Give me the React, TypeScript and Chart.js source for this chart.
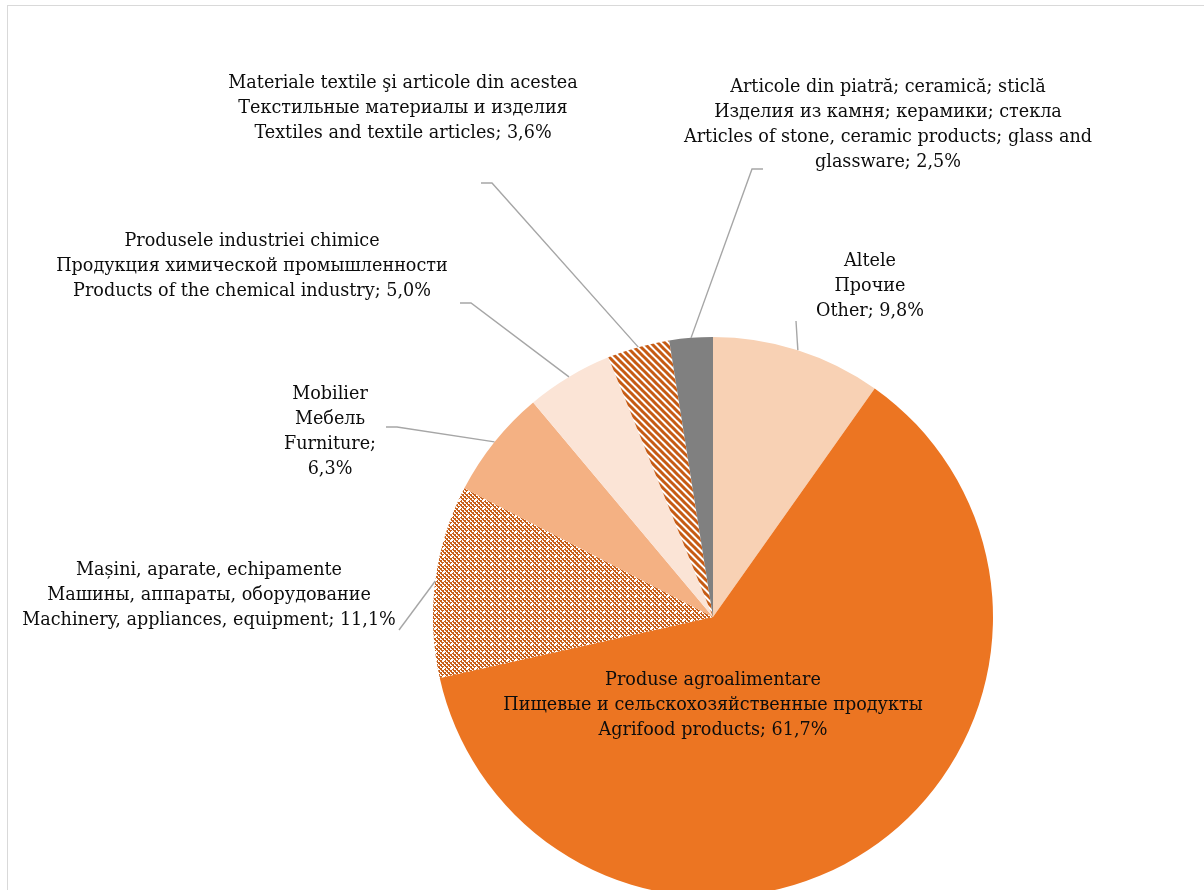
import React, { useEffect, useRef } from "react";
import { Chart, registerables } from "chart.js";

Chart.register(...registerables);

// ---- data ----
const namesRo = [
  "Altele",
  "Produse agroalimentare",
  "Mașini, aparate, echipamente",
  "Mobilier",
  "Produsele industriei chimice",
  "Materiale textile şi articole din acestea",
  "Articole din piatră; ceramică; sticlă",
];
const namesRu = [
  "Прочие",
  "Пищевые и сельскохозяйственные продукты",
  "Машины, аппараты, оборудование",
  "Мебель",
  "Продукция химической промышленности",
  "Текстильные материалы и изделия",
  "Изделия из камня; керамики; стекла",
];
const namesEn = [
  "Other",
  "Agrifood products",
  "Machinery, appliances, equipment",
  "Furniture",
  "Products of the chemical industry",
  "Textiles and textile articles",
  "Articles of stone, ceramic products; glass and glassware",
];
const shares = [9.8, 61.7, 11.1, 6.3, 5.0, 3.6, 2.5];

// ---- layout / style ----
const W = 1204;
const H = 920;
const FONT = "17.6px 'DejaVu Serif'";
const LINE_H = 25;
const LABEL_LAYOUT: { x: number; y: number; wrap: number; leader: number[][] | null }[] = [
  { x: 870, y: 261, wrap: 300, leader: [[796, 321]] },
  { x: 713, y: 680, wrap: 700, leader: null },
  { x: 209, y: 570, wrap: 480, leader: [[399, 630]] },
  { x: 330, y: 394, wrap: 130, leader: [[386, 427], [397, 427]] },
  { x: 252, y: 241, wrap: 520, leader: [[460, 303], [471, 303]] },
  { x: 403, y: 83, wrap: 480, leader: [[481, 183], [492, 183]] },
  { x: 888, y: 87, wrap: 470, leader: [[763, 169], [752, 169]] },
];

function makeDotPattern(): CanvasPattern | string {
  const s = 8;
  const c = document.createElement("canvas");
  c.width = s;
  c.height = s;
  const g = c.getContext("2d");
  if (!g) return "#D27033";
  g.fillStyle = "#ffffff";
  g.fillRect(0, 0, s, s);
  g.fillStyle = "#C9601A";
  for (let y = 0; y < s; y += 2) {
    for (let x = 0; x < s; x += 2) {
      if (((x + y) / 2) % 2 === 0) g.fillRect(x, y, 2, 2);
      else g.fillRect(x + 1, y, 1, 1);
    }
  }
  g.fillStyle = "#ffffff";
  g.fillRect(3, 3, 2, 2);
  return g.createPattern(c, "repeat") as CanvasPattern;
}

function makeStripePattern(): CanvasPattern | string {
  const s = 7;
  const c = document.createElement("canvas");
  c.width = s;
  c.height = s;
  const g = c.getContext("2d");
  if (!g) return "#D27033";
  g.fillStyle = "#ffffff";
  g.fillRect(0, 0, s, s);
  g.strokeStyle = "#C65B14";
  g.lineWidth = 3;
  g.beginPath();
  for (let k = -1; k <= 1; k++) {
    g.moveTo(k * s - 1, -1);
    g.lineTo(k * s + s + 1, s + 1);
  }
  g.stroke();
  return g.createPattern(c, "repeat") as CanvasPattern;
}

function fmt(v: number): string {
  return v.toFixed(1).replace(".", ",") + "%";
}

function wrapText(ctx: CanvasRenderingContext2D, text: string, maxW: number): string[] {
  const words = text.split(" ");
  const out: string[] = [];
  let cur = "";
  for (const w of words) {
    const t = cur ? cur + " " + w : w;
    if (cur && ctx.measureText(t).width > maxW) {
      out.push(cur);
      cur = w;
    } else {
      cur = t;
    }
  }
  if (cur) out.push(cur);
  return out;
}

const framePlugin = {
  id: "frame",
  beforeDraw(chart: any) {
    const ctx = chart.ctx as CanvasRenderingContext2D;
    ctx.save();
    ctx.fillStyle = "#ffffff";
    ctx.fillRect(0, 0, W, H);
    ctx.strokeStyle = "#D9D9D9";
    ctx.lineWidth = 1;
    ctx.strokeRect(7.5, 5.5, W + 20, H + 20);
    ctx.restore();
  },
};

const labelPlugin = {
  id: "sliceLabels",
  afterDraw(chart: any) {
    const ctx = chart.ctx as CanvasRenderingContext2D;
    const meta = chart.getDatasetMeta(0);
    ctx.save();
    ctx.font = FONT;
    meta.data.forEach((el: any, i: number) => {
      const p = el.getProps(["x", "y", "startAngle", "endAngle", "outerRadius"], true);
      const mid = (p.startAngle + p.endAngle) / 2;
      const ax = p.x + Math.cos(mid) * p.outerRadius;
      const ay = p.y + Math.sin(mid) * p.outerRadius;
      const lay = LABEL_LAYOUT[i];
      if (lay.leader) {
        ctx.strokeStyle = "#A6A6A6";
        ctx.lineWidth = 1.4;
        ctx.beginPath();
        lay.leader.forEach((pt, k) => {
          if (k === 0) ctx.moveTo(pt[0], pt[1]);
          else ctx.lineTo(pt[0], pt[1]);
        });
        ctx.lineTo(ax, ay);
        ctx.stroke();
      }
      const lines = [namesRo[i], namesRu[i], ...wrapText(ctx, namesEn[i] + "; " + fmt(shares[i]), lay.wrap)];
      ctx.fillStyle = "#0d0d0d";
      ctx.textAlign = "center";
      ctx.textBaseline = "middle";
      lines.forEach((ln, k) => ctx.fillText(ln, lay.x, lay.y + k * LINE_H));
    });
    ctx.restore();
  },
};

export default function App() {
  const ref = useRef<HTMLCanvasElement | null>(null);
  useEffect(() => {
    if (!ref.current) return;
    const colors = [
      "#F8D1B4",
      "#EC7522",
      makeDotPattern(),
      "#F4B183",
      "#FBE4D6",
      makeStripePattern(),
      "#808080",
    ];
    const chart = new Chart(ref.current, {
      type: "pie",
      data: {
        labels: namesEn,
        datasets: [
          {
            data: shares,
            backgroundColor: colors as any,
            borderWidth: 0,
          },
        ],
      },
      options: {
        responsive: false,
        animation: false,
        devicePixelRatio: 1,
        layout: { padding: { left: 433, right: W - 993, top: 337, bottom: H - 897 } },
        plugins: {
          legend: { display: false },
          tooltip: { enabled: false },
        },
      },
      plugins: [framePlugin, labelPlugin],
    });
    return () => chart.destroy();
  }, []);
  return (
    <div style={{ position: "fixed", left: 0, top: 0, width: W, height: 890, overflow: "hidden", background: "#fff" }}>
      <canvas ref={ref} width={W} height={H} style={{ display: "block", width: W, height: H }} />
    </div>
  );
}
